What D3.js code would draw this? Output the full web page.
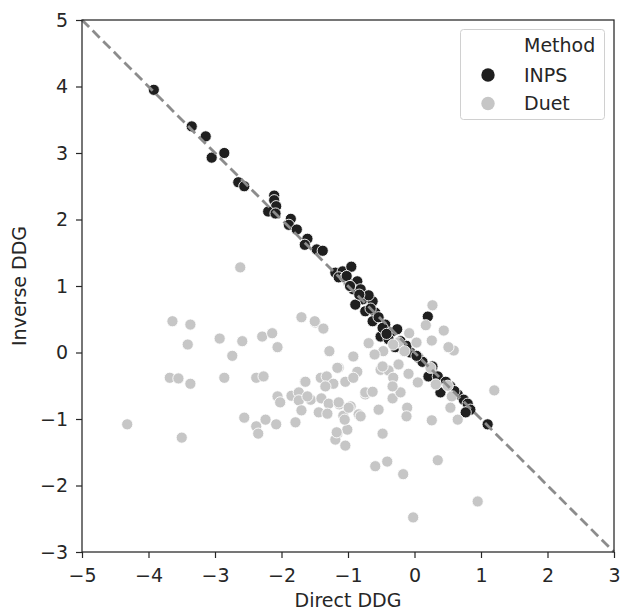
<!DOCTYPE html>
<html><head><meta charset="utf-8">
<script src="https://cdn.jsdelivr.net/npm/d3@7"></script>
<style>body{margin:0;background:#fff}svg{display:block}text{font-family:"DejaVu Sans",sans-serif;fill:#262626}</style>
</head><body><svg id="c" width="621" height="611"></svg>
<script>
const xTicks=[-5,-4,-3,-2,-1,0,1,2,3];
const yTicks=[-3,-2,-1,0,1,2,3,4,5];
const methods=["INPS","Duet"];
const inpsX=[-3.92,-3.35,-3.14,-3.05,-2.86,-2.65,-2.56,-2.11,-2.11,-2.08,-2.20,-2.09,-1.86,-1.89,-1.77,-1.61,-1.65,-1.47,-1.38,-1.19,-1.08,-0.95,-1.14,-0.99,-0.86,-0.92,-0.78,-0.89,-0.63,-0.74,-0.59,-0.63,-0.44,-0.51,-0.36,-0.26,-0.39,-0.21,-0.17,-0.06,0.06,0.12,0.20,0.21,0.35,0.39,0.54,0.65,0.74,0.80,0.84,0.77,1.10,-1.04,-0.81,-0.69,-0.54,-0.29,0.27,0.47,-1.02,-0.97,-0.83,-0.66,-0.48,-0.42,-0.12,0.03,0.60];
const inpsY=[3.95,3.40,3.25,2.93,3.00,2.56,2.50,2.36,2.29,2.20,2.12,2.09,2.01,1.92,1.85,1.71,1.62,1.55,1.53,1.20,1.22,1.29,1.13,1.05,1.07,0.95,0.80,0.72,0.77,0.62,0.60,0.47,0.42,0.24,0.30,0.35,0.20,0.17,0.05,0.00,-0.08,-0.14,0.54,-0.36,-0.36,-0.60,-0.51,-0.63,-0.71,-0.77,-0.86,-0.90,-1.08,1.13,0.95,0.86,0.53,0.08,-0.21,-0.44,1.15,1.00,0.87,0.66,0.37,0.28,0.10,-0.05,-0.58];
const duetX=[-3.64,-3.37,-3.41,-2.93,-2.59,-2.74,-2.29,-2.14,-2.06,-1.70,-1.49,-1.37,-1.28,-1.14,-3.68,-3.55,-3.37,-2.86,-2.38,-2.27,-1.65,-1.41,-1.32,-1.22,-1.34,-2.06,-2.02,-1.85,-1.74,-1.74,-1.56,-1.40,-1.29,-1.13,-1.44,-1.31,-1.70,-1.07,-1.79,-2.56,-2.24,-2.38,-2.35,-2.08,-4.32,-3.50,-1.16,-1.19,-1.04,-1.01,-2.62,0.27,0.17,0.44,0.26,0.59,0.51,-0.08,0.03,-0.24,-0.32,-0.47,-0.60,-0.69,-0.15,-0.92,-1.16,-0.86,-0.51,-0.39,-0.24,-0.32,-0.48,-0.09,0.05,0.32,0.50,0.56,0.54,0.65,0.26,-0.11,-0.12,-0.33,-0.74,-0.54,-0.48,1.20,-0.96,-1.05,-1.17,-0.84,0.35,-0.59,-0.41,-0.17,0.95,-0.02,-1.64,-1.04,-0.92,-1.61,-1.14,-0.81,-0.74,-0.63,-0.21,-0.33,0.24,-1.50,-0.99];
const duetY=[0.47,0.42,0.12,0.21,0.17,-0.05,0.24,0.29,0.08,0.53,0.45,0.36,0.02,-0.23,-0.38,-0.39,-0.47,-0.38,-0.38,-0.36,-0.44,-0.38,-0.36,-0.47,-0.51,-0.66,-0.75,-0.65,-0.60,-0.72,-0.71,-0.69,-0.77,-0.78,-0.90,-0.92,-0.87,-0.95,-1.05,-0.98,-1.01,-1.11,-1.22,-1.08,-1.08,-1.28,-1.22,-1.31,-1.40,-1.16,1.28,0.71,0.41,0.33,0.18,0.03,0.08,0.29,0.15,0.15,0.12,0.02,-0.03,0.14,0.02,-0.06,-0.23,-0.29,-0.26,-0.27,-0.18,-0.38,-0.21,-0.32,-0.45,-0.48,-0.50,-0.66,-0.83,-1.01,-1.02,-0.83,-0.96,-0.69,-0.63,-0.86,-1.22,-0.57,-0.81,-1.01,-1.20,-0.93,-1.62,-1.71,-1.64,-1.83,-2.24,-2.48,-0.44,-0.44,-0.38,-0.66,-0.75,-0.96,-0.60,-0.59,-0.60,-0.51,-0.23,0.47,-0.83];
const colors={INPS:"#1f1f1f",Duet:"#c6c6c6"};

const svg=d3.select("#c");
const m={l:82,r:614,t:20,b:552};
const x=d3.scaleLinear().domain([-5,3]).range([m.l,m.r]);
const y=d3.scaleLinear().domain([-3,5]).range([m.b,m.t]);

const pts=[];
inpsX.forEach((v,i)=>pts.push({m:"INPS",x:v,y:inpsY[i]}));
duetX.forEach((v,i)=>pts.push({m:"Duet",x:v,y:duetY[i]}));

const g=svg.append("g");
g.selectAll("circle").data(pts).join("circle")
 .attr("cx",d=>x(d.x)).attr("cy",d=>y(d.y)).attr("r",5.6)
 .attr("fill",d=>colors[d.m]).attr("stroke","#fff").attr("stroke-width",0.9);

svg.append("line").attr("x1",x(-5)).attr("y1",y(5)).attr("x2",x(3)).attr("y2",y(-3))
 .attr("stroke","#8c8c8c").attr("stroke-width",2.8).attr("stroke-dasharray","10,5");

const fmt=d=>d<0?"\u2212"+Math.abs(d):d;
const xa=svg.append("g").attr("transform",`translate(0,${m.b})`)
 .call(d3.axisBottom(x).tickValues(xTicks).tickSize(6).tickPadding(10).tickFormat(fmt));
const ya=svg.append("g").attr("transform",`translate(${m.l},0)`)
 .call(d3.axisLeft(y).tickValues(yTicks).tickSize(6).tickPadding(8).tickFormat(fmt));
[xa,ya].forEach(a=>{a.select(".domain").remove();a.selectAll("line").attr("stroke","#262626").attr("stroke-width",1.2);
 a.selectAll("text").attr("font-size",19).attr("fill","#262626").attr("font-family","DejaVu Sans");});
xa.selectAll("text").attr("dy","0.72em");
svg.append("rect").attr("x",m.l).attr("y",m.t).attr("width",m.r-m.l).attr("height",m.b-m.t)
 .attr("fill","none").attr("stroke","#262626").attr("stroke-width",1.25);

svg.append("text").attr("x",(m.l+m.r)/2).attr("y",607).attr("text-anchor","middle").attr("font-size",19).text("Direct DDG");
svg.append("text").attr("transform",`translate(26,${(m.t+m.b)/2}) rotate(-90)`).attr("text-anchor","middle").attr("font-size",19).text("Inverse DDG");

const lg=svg.append("g");
lg.append("rect").attr("x",460.5).attr("y",29.5).attr("width",144).attr("height",90).attr("rx",3)
 .attr("fill","#fff").attr("fill-opacity",0.85).attr("stroke","#d0d0d0").attr("stroke-width",1);
lg.append("text").attr("x",524).attr("y",52).attr("font-size",19).text("Method");
methods.forEach((k,i)=>{
 lg.append("circle").attr("cx",488).attr("cy",75+i*28.5).attr("r",6.7).attr("fill",colors[k]);
 lg.append("text").attr("x",524).attr("y",81.5+i*28.5).attr("font-size",19).text(k);
});
</script></body></html>
